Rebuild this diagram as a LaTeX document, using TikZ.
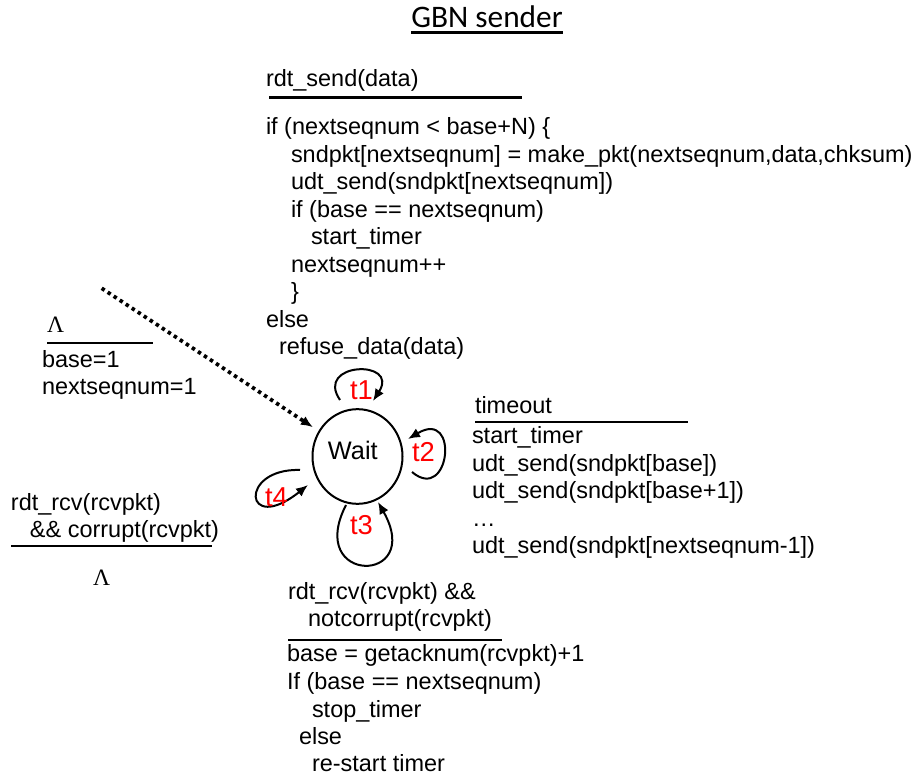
\documentclass[tikz,border=0pt]{standalone}
\usepackage{fontspec}
\setmainfont{Liberation Sans}
\newfontfamily\titlefont{Carlito}
\newfontfamily\serifface{Liberation Serif}
\usetikzlibrary{arrows.meta,shapes.geometric}
\begin{document}
\begin{tikzpicture}[x=0.75pt,y=-0.75pt,
  txt/.style={anchor=base west,inner sep=0pt,outer sep=0pt,font=\fontsize{17.6pt}{20pt}\selectfont},
  lam/.style={anchor=base west,inner sep=0pt,outer sep=0pt,font=\serifface\fontsize{17.6pt}{20pt}\selectfont},
  tlab/.style={anchor=base west,inner sep=0pt,outer sep=0pt,text=red,font=\fontsize{20.5pt}{22pt}\selectfont},
  bar/.style={line width=2.2pt},
  tip/.style={-{Latex[length=9pt,width=7.5pt]}},
  loopline/.style={line width=1.5pt,tip},
  state/.style={ellipse,draw,line width=1.5pt,minimum width=67.5pt,minimum height=71pt,inner sep=0pt,
     font=\fontsize{19pt}{21pt}\selectfont,text height=14pt,text depth=9.75pt}
]
\useasboundingbox (0,0) rectangle (915,780);

% title
\node[anchor=base west,inner sep=0pt,font=\titlefont\fontsize{23.5pt}{26pt}\selectfont] (title) at (411,27.5) {GBN sender};
\draw[line width=1.6pt] (title.base west) ++(0,5) coordinate (tl) -- (tl -| title.base east);

% state
\node[state] (w) at (357.5,456.5) {Wait\hspace*{7pt}};

% rdt_send block
\node[txt] (s0) at (266,87) {rdt\_send(data)};
\coordinate (sb1) at (269,97.7);
\coordinate (sb2) at (522,97.7);
\draw[bar] (sb1) -- (sb2);
\node[txt] (s1) at (266,135) {if (nextseqnum < base+N) \{};
\node[txt] (s2) at (291,162.5) {sndpkt[nextseqnum] = make\_pkt(nextseqnum,data,chksum)};
\node[txt] (s3) at (291,190) {udt\_send(sndpkt[nextseqnum])};
\node[txt] (s4) at (291,217.5) {if (base == nextseqnum)};
\node[txt] (s5) at (311,245) {start\_timer};
\node[txt] (s6) at (291,272.5) {nextseqnum++};
\node[txt] (s7) at (291,300) {\}};
\node[txt] (s8) at (266,327.5) {else};
\node[txt] (s9) at (279,355) {refuse\_data(data)};

% init block
\node[lam] (i0) at (47,333) {Λ};
\coordinate (ib1) at (47,343);
\coordinate (ib2) at (153,343);
\draw[bar] (ib1) -- (ib2);
\node[txt] (i1) at (42,368) {base=1};
\node[txt] (i2) at (42,395) {nextseqnum=1};

% corrupt block
\node[txt] (c0) at (11,511) {rdt\_rcv(rcvpkt)};
\node[txt] (c1) at (30,538) {\&\& corrupt(rcvpkt)};
\coordinate (cb1) at (11,546);
\coordinate (cb2) at (212,546);
\draw[bar] (cb1) -- (cb2);
\node[lam] (c2) at (93,586) {Λ};

% timeout block
\node[txt] (o0) at (475,414) {timeout};
\coordinate (ob1) at (475,422);
\coordinate (ob2) at (688,422);
\draw[bar] (ob1) -- (ob2);
\node[txt] (o1) at (472,444) {start\_timer};
\node[txt] (o2) at (472,471.5) {udt\_send(sndpkt[base])};
\node[txt] (o3) at (472,499) {udt\_send(sndpkt[base+1])};
\node[txt] (o4) at (472,526.5) {…};
\node[txt] (o5) at (472,554) {udt\_send(sndpkt[nextseqnum-1])};

% ack block
\node[txt] (a0) at (288,600) {rdt\_rcv(rcvpkt) \&\&};
\node[txt] (a1) at (308,627) {notcorrupt(rcvpkt)};
\coordinate (ab1) at (288,640);
\coordinate (ab2) at (502,640);
\draw[bar] (ab1) -- (ab2);
\node[txt] (a2) at (287,662) {base = getacknum(rcvpkt)+1};
\node[txt] (a3) at (287,689.5) {If (base == nextseqnum)};
\node[txt] (a4) at (312,717) {stop\_timer};
\node[txt] (a5) at (299,744.5) {else};
\node[txt] (a6) at (312,772) {re-start timer};

% initial dotted arrow
\coordinate (init) at (101.7,288.3);
\draw[line width=2.8pt,dash pattern=on 2.6pt off 2.8pt,shorten >=5pt,tip] (init) -- (w);

% self loops
\coordinate (l1a) at (340,400);
\coordinate (l1b) at (373,401);
\draw[loopline] (l1a) .. controls (314,362) and (400,359) .. (l1b);
\node[tlab] (t1) at (350,400) {t1};

\coordinate (l2a) at (412,472);
\coordinate (l2b) at (408,439);
\draw[loopline] (l2a) .. controls (450,504) and (460,408) .. (l2b);
\node[tlab] (t2) at (412,462) {t2};

\coordinate (l3a) at (346,505);
\coordinate (l3b) at (378,502);
\draw[loopline] (l3a) .. controls (305,585) and (425,585) .. (l3b);
\node[tlab] (t3) at (350,535) {t3};

\coordinate (l4a) at (300,470);
\coordinate (l4b) at (308,485);
\draw[loopline] (l4a) .. controls (238,468) and (244,536) .. (l4b);
\node[tlab] (t4) at (265,507) {t4};
\end{tikzpicture}
\end{document}
